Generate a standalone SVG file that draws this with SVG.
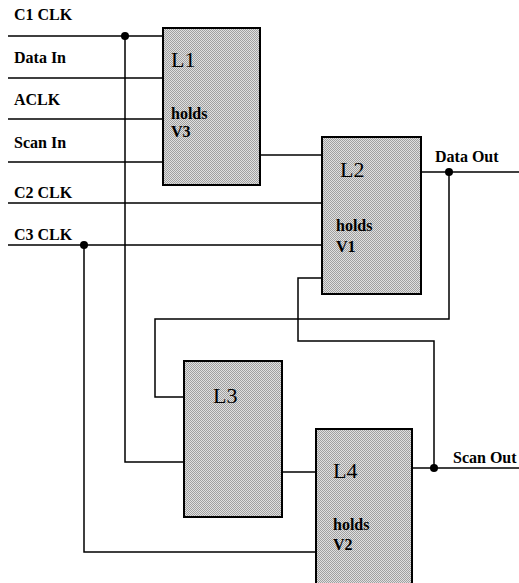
<svg xmlns="http://www.w3.org/2000/svg" width="519" height="583" viewBox="0 0 519 583">
<defs>
<pattern id="stip" width="2" height="2" patternUnits="userSpaceOnUse">
<rect width="2" height="2" fill="#e0e0e0"/>
<rect x="0" y="0" width="1" height="1" fill="#a0a0a0"/>
<rect x="1" y="1" width="1" height="1" fill="#a0a0a0"/>
</pattern>
<style>
.box{fill:url(#stip);stroke:#000;stroke-width:2}
.w{fill:none;stroke:#000;stroke-width:1.5}
.dot{fill:#000}
.lab{font-family:"Liberation Serif","Times New Roman",serif;font-size:16px;font-weight:bold;fill:#000}
.big{font-family:"Liberation Serif","Times New Roman",serif;font-size:22px;fill:#000}
</style>
</defs>
<rect width="519" height="583" fill="#fff"/>
<g id="connectors">
<path class="w" d="M8 36H163M8 78H163M8 119H163M8 162H163"/>
<path class="w" d="M125 36V462H184"/>
<path class="w" d="M260 155H322"/>
<path class="w" d="M8 203H322M8 245H322"/>
<path class="w" d="M84 245V552H316"/>
<path class="w" d="M322 278H298V341H434V468"/>
<path class="w" d="M421 172H519"/>
<path class="w" d="M449 172V319H155V397H184"/>
<path class="w" d="M282 472H316"/>
<path class="w" d="M412 468H519"/>
<circle class="dot" cx="125" cy="36" r="4"/>
<circle class="dot" cx="84" cy="245" r="4"/>
<circle class="dot" cx="449" cy="172" r="4"/>
<circle class="dot" cx="434" cy="468" r="4"/>
</g>
<g id="labels">
<text class="lab" x="14" y="20">C1 CLK</text>
<text class="lab" x="14" y="63">Data In</text>
<text class="lab" x="14" y="105">ACLK</text>
<text class="lab" x="14" y="148">Scan In</text>
<text class="lab" x="14" y="198">C2 CLK</text>
<text class="lab" x="14" y="240">C3 CLK</text>
<text class="lab" x="435" y="162">Data Out</text>
<text class="lab" x="453" y="463">Scan Out</text>
</g>
<g id="L1">
<rect class="box" x="163" y="28" width="97" height="157"/>
<text class="big" x="171" y="67">L1</text>
<text class="lab" x="171" y="119">holds</text>
<text class="lab" x="171" y="137">V3</text>
</g>
<g id="L2">
<rect class="box" x="322" y="137" width="99" height="157"/>
<text class="big" x="340" y="177">L2</text>
<text class="lab" x="336" y="231">holds</text>
<text class="lab" x="336" y="252">V1</text>
</g>
<g id="L3">
<rect class="box" x="184" y="361" width="98" height="156"/>
<text class="big" x="213" y="403">L3</text>
</g>
<g id="L4">
<rect class="box" x="316" y="429" width="96" height="162"/>
<text class="big" x="333" y="478">L4</text>
<text class="lab" x="333" y="530">holds</text>
<text class="lab" x="333" y="550">V2</text>
</g>
</svg>
